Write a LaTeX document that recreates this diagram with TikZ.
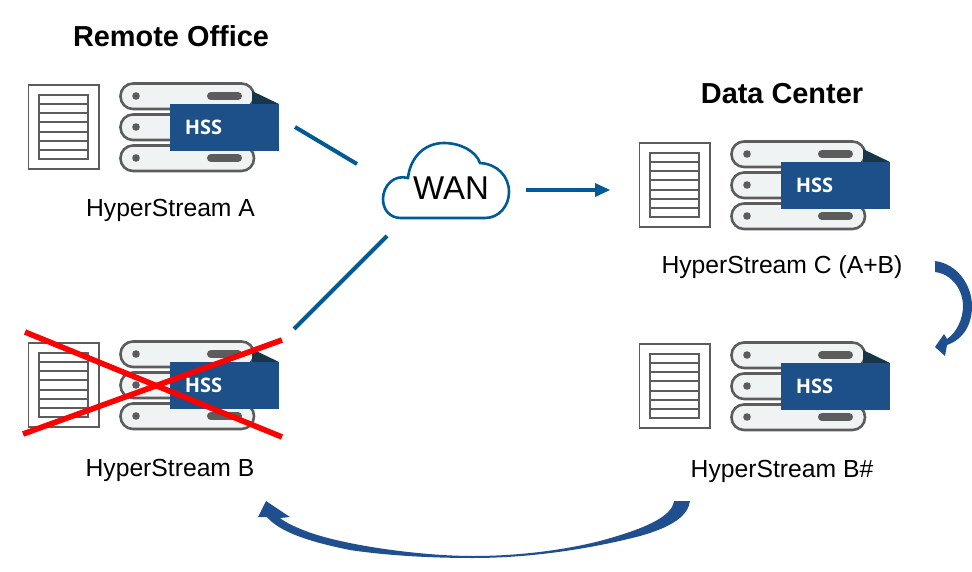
\documentclass[tikz,border=0pt]{standalone}
\usepackage{fontspec}
\setmainfont{Liberation Sans}
\newfontfamily\hssfont{Open Sans}
\definecolor{hssblue}{HTML}{1D5088}
\definecolor{hssdark}{HTML}{17364A}
\definecolor{pillfill}{HTML}{EFF3F4}
\definecolor{iconline}{HTML}{5C5C5C}
\definecolor{linkblue}{HTML}{005A96}
\definecolor{swoop}{HTML}{1F4F8E}
\tikzset{
  pill/.style={draw=iconline,fill=pillfill,line width=2.6pt,rounded corners=12.5pt},
  docline/.style={draw=iconline,line width=1.9pt},
  link/.style={draw=linkblue,line width=4pt},
  crossout/.style={draw=red,line width=5.6pt},
  swoopfill/.style={fill=swoop,draw=none},
  lbl/.style={font=\fontsize{24.7}{28}\selectfont,text=black,inner sep=0pt,anchor=base},
  ttl/.style={font=\fontsize{28.9}{32}\selectfont\bfseries,text=black,inner sep=0pt,anchor=base},
  hs/.pic={
    \draw[docline,fill=white] (0.5,0) rectangle (71,84);
    \draw[docline] (11,10) rectangle (60,74);
    \foreach \r in {1,...,6}{\draw[docline] (11,10+\r*9.14) -- (60,10+\r*9.14);}
    \foreach \yy in {0,31,62}{
      \draw[pill] (92.5,-1.5+\yy) rectangle (226,24+\yy);
      \fill[iconline] (108,11+\yy) circle (3.8);
    }
    \draw[iconline,line width=8pt,line cap=round] (183,11) -- (210,11);
    \draw[iconline,line width=8pt,line cap=round] (183,73) -- (210,73);
    \fill[hssdark] (224,6) -- (251,19) -- (224,19) -- cycle;
    \fill[hssblue] (142,19) rectangle (251,66);
    \node[font=\hssfont\fontsize{20}{24}\selectfont\bfseries,text=white,inner sep=0pt] at (175.5,42) {HSS};
  }
}
\begin{document}
\begin{tikzpicture}[x=1pt,y=-1pt]
\useasboundingbox (0,0) rectangle (972,572);
\fill[white] (0,0) rectangle (972,572);

\pic at (28,85) {hs};
\pic at (28,343) {hs};
\pic at (639,143) {hs};
\pic at (639,344) {hs};

\node[ttl] (title1) at (171,47) {Remote Office};
\node[ttl] (title2) at (782,104) {Data Center};
\node[lbl] (labA) at (170.5,217) {HyperStream A};
\node[lbl] (labB) at (170,476) {HyperStream B};
\node[lbl] (labC) at (782,273) {HyperStream C (A+B)};
\node[lbl] (labD) at (782,477) {HyperStream B\#};

% cloud
\draw[draw=linkblue,line width=2.6pt,fill=white]
  (401,218) -- (485,218)
  .. controls (499,218) and (509,206) .. (509,192)
  .. controls (509,176) and (497,164) .. (480,163)
  .. controls (476,151) and (460,143) .. (444,143)
  .. controls (424,143) and (410,158) .. (408,178)
  .. controls (394,174) and (383,186) .. (383,199)
  .. controls (383,210) and (390,218) .. (401,218) -- cycle;
\node[font=\fontsize{33}{40}\selectfont,inner sep=0pt] (wan) at (451,188) {WAN};

\coordinate (a1) at (295,127);
\coordinate (a2) at (357,164);
\coordinate (b1) at (387,236);
\coordinate (b2) at (294,329);
\coordinate (c1) at (526,190);
\coordinate (c2) at (597,190);
\draw[link] (a1) -- (a2);
\draw[link] (b1) -- (b2);
\draw[link] (c1) -- (c2);
\fill[linkblue] (595,183) -- (610,190) -- (595,197) -- cycle;

% red cross
\coordinate (x1) at (25,332);
\coordinate (x2) at (282,437);
\coordinate (x3) at (282,340);
\coordinate (x4) at (23,434);
\draw[crossout] (x1) -- (x2);
\draw[crossout] (x3) -- (x4);

% right swoop
\fill[swoopfill] (935,261)
  .. controls (958,264) and (972,286) .. (972,306)
  .. controls (972,324) and (964,339) .. (947,345)
  -- (945,356) -- (935,347) -- (944,334) -- (947,339)
  .. controls (956,333) and (963,320) .. (963,306)
  .. controls (963,290) and (952,274) .. (935,272) -- cycle;

% bottom swoop
\fill[swoopfill] (674,501)
  .. controls (672,518) and (640,530) .. (600,541)
  .. controls (560,551) and (515,556) .. (473,556)
  .. controls (420,556) and (340,545) .. (303,530)
  .. controls (293,526) and (285,522) .. (280,518)
  -- (290,517) -- (266,501) -- (258,517) -- (267,517)
  .. controls (280,533) and (315,543) .. (350,550)
  .. controls (390,556) and (435,558) .. (473,558)
  .. controls (530,558) and (590,549) .. (640,536)
  .. controls (672,527) and (688,516) .. (690,501) -- cycle;
\end{tikzpicture}
\end{document}
